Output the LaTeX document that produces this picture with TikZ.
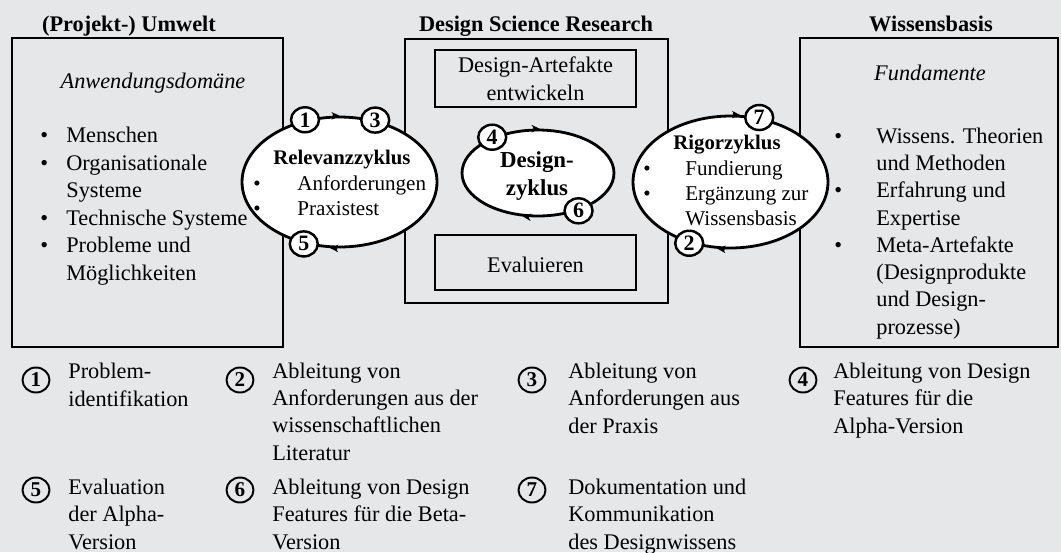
\documentclass[tikz,border=0pt]{standalone}
\usepackage{fontspec}
\setmainfont{Liberation Serif}
\usetikzlibrary{shapes,arrows.meta,calc}
\definecolor{hintergrund}{RGB}{230,231,233}
\newcommand{\itm}[1][0.52cm]{\makebox[#1][l]{\textbullet}}
\newcommand{\ind}[1][0.52cm]{\hspace*{#1}}

\begin{document}
\begin{tikzpicture}[x=0.02cm, y=-0.02cm,
    rahmen/.style={rectangle, draw, line width=1.6pt, inner sep=0pt},
    innen/.style={rectangle, draw, line width=1.3pt, inner sep=0pt},
    zyklus/.style={ellipse, draw, fill=white, line width=1.6pt, inner sep=0pt},
    nummer/.style={ellipse, draw, fill=white, line width=1.4pt, minimum width=0.56cm, minimum height=0.5cm, inner sep=0pt, font=\fontsize{12.5}{14}\selectfont\bfseries},
    legnum/.style={ellipse, draw, line width=1.1pt, minimum width=0.54cm, minimum height=0.5cm, inner sep=0pt, font=\fontsize{12}{14}\selectfont\bfseries},
    txt/.style={inner sep=0pt, align=left, anchor=base west, font=\fontsize{12.7}{15.5}\selectfont},
    legtxt/.style={txt, font=\fontsize{12.7}{15.4}\selectfont},
    mitte/.style={inner sep=0pt, align=center, anchor=base, font=\fontsize{12.7}{15.5}\selectfont},
    titel/.style={inner sep=0pt, anchor=base, font=\fontsize{12.7}{15.5}\selectfont\bfseries},
    ztxt/.style={inner sep=0pt, align=left, anchor=base west, font=\fontsize{12}{14.2}\selectfont},
    ztitel/.style={inner sep=0pt, anchor=base, font=\fontsize{11.8}{14}\selectfont\bfseries},
    pfeil/.style={line width=1.6pt, -{Stealth[length=1.6mm,width=1.5mm]}}]
    \useasboundingbox[fill=hintergrund] (0,0) rectangle (1061,552);
    % Rahmen (Koordinaten der mehrzeiligen Texte: Grundlinie der letzten Zeile)
    \node [rahmen, minimum width=5.42cm, minimum height=6.18cm] (umwelt) at (147.5,192.5) {};
    \node [rahmen, minimum width=5.26cm, minimum height=5.28cm] (dsr) at (536.5,171) {};
    \node [rahmen, minimum width=5.16cm, minimum height=6.18cm] (wissen) at (929,192.5) {};
    \node [innen, minimum width=4.02cm, minimum height=1.14cm] (artefakte) at (535.5,78.5) {};
    \node [innen, minimum width=4.02cm, minimum height=1.1cm] (evaluieren) at (535.5,262.5) {};
    \node [titel] (umwelttitel) at (129,31) {(Projekt-) Umwelt};
    \node [titel] (dsrtitel) at (536,31) {Design Science Research};
    \node [titel] (wissentitel) at (931,31) {Wissensbasis};
    \node [mitte] (artefaktetxt) at (535.5,100) {Design-Artefakte\\entwickeln};
    \node [mitte] (evaluierentxt) at (535.5,272) {Evaluieren};
    % Inhalte
    \node [mitte, font=\fontsize{12.7}{15.5}\selectfont\itshape] (domaene) at (153,88) {Anwendungsdomäne};
    \node [txt, font=\fontsize{12.7}{15.6}\selectfont] (umweltliste) at (40,280) {\itm Menschen\\\itm Organisationale\\\ind Systeme\\\itm Technische Systeme\\\itm Probleme und\\\ind Möglichkeiten};
    \node [mitte, font=\fontsize{12.7}{15.5}\selectfont\itshape] (fundamente) at (930,80) {Fundamente};
    \node [txt] (wissenliste) at (834,334) {\itm[0.84cm]Wissens. Theorien\\\ind[0.84cm]und Methoden\\\itm[0.84cm]Erfahrung und\\\ind[0.84cm]Expertise\\\itm[0.84cm]Meta-Artefakte\\\ind[0.84cm](Designprodukte\\\ind[0.84cm]und Design-\\\ind[0.84cm]prozesse)};
    % Zyklen
    \node [zyklus, minimum width=3.9cm, minimum height=2.6cm] (relevanz) at (339.5,182) {};
    \node [zyklus, minimum width=3.9cm, minimum height=2.64cm] (rigor) at (730.5,182) {};
    \node [zyklus, minimum width=3.04cm, minimum height=1.72cm] (design) at (538,173) {};
    \node [ztitel] (relevanztitel) at (342,164) {Relevanzzyklus};
    \node [ztxt] (relevanzliste) at (253,215) {\itm[0.88cm]Anforderungen\\\itm[0.88cm]Praxistest};
    \node [ztitel] (rigortitel) at (727,149) {Rigorzyklus};
    \node [ztxt] (rigorliste) at (643,225) {\itm[0.84cm]Fundierung\\\itm[0.84cm]Ergänzung zur\\\ind[0.84cm]Wissensbasis};
    \node [mitte, font=\fontsize{13}{15.4}\selectfont\bfseries] (designtxt) at (537,195) {Design-\\zyklus};
    \draw[pfeil] (relevanz.96) -- (relevanz.90);
    \draw[pfeil] (relevanz.268) -- (relevanz.262);
    \draw[pfeil] (rigor.88) -- (rigor.82);
    \draw[pfeil] (rigor.265) -- (rigor.259);
    \draw[pfeil] (design.96) -- (design.88);
    \draw[pfeil] (design.258) -- (design.251);
    \node [nummer] (r1) at (relevanz.119) {1};
    \node [nummer] (r3) at (relevanz.60) {3};
    \node [nummer] (r5) at (relevanz.240) {5};
    \node [nummer] (g7) at (rigor.66) {7};
    \node [nummer] (g2) at (rigor.236) {2};
    \node [nummer] (d4) at (design.142) {4};
    \node [nummer] (d6) at (design.317) {6};
    % Legende
    \node [legnum] (l1) at (36,380) {1};
    \node [legtxt] (t1) at (68,406) {Problem-\\identifikation};
    \node [legnum] (l2) at (240,380) {2};
    \node [legtxt] (t2) at (272,460) {Ableitung von\\Anforderungen aus der\\wissenschaftlichen\\Literatur};
    \node [legnum] (l3) at (532,380) {3};
    \node [legtxt] (t3) at (568,433) {Ableitung von\\Anforderungen aus\\der Praxis};
    \node [legnum] (l4) at (803,380) {4};
    \node [legtxt] (t4) at (833,433) {Ableitung von Design\\Features für die\\Alpha-Version};
    \node [legnum] (l5) at (36,490) {5};
    \node [legtxt] (t5) at (68,549) {Evaluation\\der Alpha-\\Version};
    \node [legnum] (l6) at (240,490) {6};
    \node [legtxt] (t6) at (272,549) {Ableitung von Design\\Features für die Beta-\\Version};
    \node [legnum] (l7) at (532,490) {7};
    \node [legtxt] (t7) at (568,549) {Dokumentation und\\Kommunikation\\des Designwissens};
\end{tikzpicture}
\end{document}
